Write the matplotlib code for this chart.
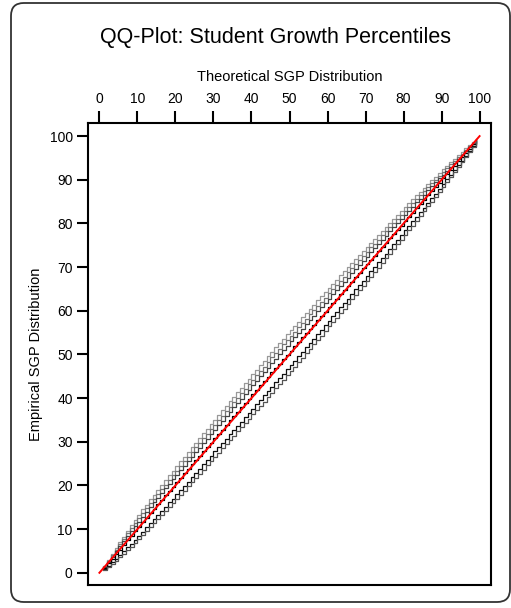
import matplotlib
matplotlib.use("Agg")
import matplotlib.pyplot as plt
import numpy as np
from matplotlib.patches import FancyBboxPatch

plt.rcParams['font.family'] = ['Liberation Sans', 'DejaVu Sans']

# theoretical percentiles 1..99
theoretical = np.array([
    1, 2, 3, 4, 5, 6, 7, 8, 9, 10, 11, 12, 13, 14, 15, 16, 17, 18, 19, 20,
    21, 22, 23, 24, 25, 26, 27, 28, 29, 30, 31, 32, 33, 34, 35, 36, 37, 38, 39, 40,
    41, 42, 43, 44, 45, 46, 47, 48, 49, 50, 51, 52, 53, 54, 55, 56, 57, 58, 59, 60,
    61, 62, 63, 64, 65, 66, 67, 68, 69, 70, 71, 72, 73, 74, 75, 76, 77, 78, 79, 80,
    81, 82, 83, 84, 85, 86, 87, 88, 89, 90, 91, 92, 93, 94, 95, 96, 97, 98, 99])

# empirical minus theoretical, one list per group
dev_a = [0.5, 0.9, 1.3, 1.7, 2.0, 2.3, 2.6, 2.9, 3.1, 3.3,
         3.5, 3.6, 3.8, 3.9, 4.0, 4.1, 4.2, 4.3, 4.4, 4.5,
         4.6, 4.6, 4.7, 4.8, 4.8, 4.9, 4.9, 5.0, 5.0, 5.1,
         5.1, 5.2, 5.2, 5.3, 5.3, 5.3, 5.4, 5.4, 5.4, 5.5,
         5.5, 5.5, 5.5, 5.6, 5.6, 5.6, 5.6, 5.6, 5.6, 5.6,
         5.5, 5.5, 5.5, 5.5, 5.4, 5.4, 5.4, 5.3, 5.3, 5.2,
         5.2, 5.1, 5.1, 5.0, 5.0, 4.9, 4.8, 4.8, 4.7, 4.6,
         4.5, 4.5, 4.4, 4.3, 4.2, 4.1, 4.0, 3.9, 3.8, 3.7,
         3.6, 3.5, 3.4, 3.3, 3.1, 3.0, 2.9, 2.7, 2.6, 2.4,
         2.2, 2.0, 1.8, 1.6, 1.4, 1.2, 0.9, 0.6, 0.3]
dev_b = [0.4, 0.7, 1.0, 1.3, 1.5, 1.8, 2.0, 2.2, 2.3, 2.5,
         2.6, 2.8, 2.9, 3.0, 3.1, 3.2, 3.2, 3.3, 3.4, 3.4,
         3.5, 3.5, 3.6, 3.7, 3.7, 3.7, 3.8, 3.8, 3.9, 3.9,
         3.9, 4.0, 4.0, 4.0, 4.1, 4.1, 4.1, 4.1, 4.2, 4.2,
         4.2, 4.2, 4.2, 4.3, 4.3, 4.3, 4.3, 4.3, 4.3, 4.3,
         4.2, 4.2, 4.2, 4.2, 4.2, 4.1, 4.1, 4.1, 4.0, 4.0,
         4.0, 3.9, 3.9, 3.8, 3.8, 3.7, 3.7, 3.6, 3.6, 3.5,
         3.5, 3.4, 3.3, 3.3, 3.2, 3.1, 3.1, 3.0, 2.9, 2.8,
         2.7, 2.6, 2.6, 2.5, 2.4, 2.3, 2.2, 2.0, 1.9, 1.8,
         1.7, 1.5, 1.4, 1.2, 1.0, 0.9, 0.7, 0.5, 0.2]
dev_c = [0.3, 0.5, 0.7, 0.9, 1.1, 1.2, 1.4, 1.5, 1.6, 1.7,
         1.8, 1.9, 2.0, 2.1, 2.1, 2.2, 2.3, 2.3, 2.4, 2.4,
         2.5, 2.5, 2.5, 2.6, 2.6, 2.6, 2.7, 2.7, 2.7, 2.8,
         2.8, 2.8, 2.8, 2.8, 2.9, 2.9, 2.9, 2.9, 2.9, 2.9,
         3.0, 3.0, 3.0, 3.0, 3.0, 3.0, 3.0, 3.0, 3.0, 3.0,
         3.0, 2.9, 2.9, 2.9, 2.9, 2.9, 2.9, 2.8, 2.8, 2.8,
         2.8, 2.7, 2.7, 2.7, 2.6, 2.6, 2.6, 2.5, 2.5, 2.4,
         2.4, 2.4, 2.3, 2.3, 2.2, 2.2, 2.1, 2.1, 2.0, 2.0,
         1.9, 1.8, 1.8, 1.7, 1.6, 1.6, 1.5, 1.4, 1.3, 1.2,
         1.1, 1.0, 0.9, 0.8, 0.7, 0.6, 0.5, 0.3, 0.2]
dev_d = [0.1, 0.2, 0.2, 0.3, 0.3, 0.4, 0.4, 0.5, 0.5, 0.5,
         0.6, 0.6, 0.6, 0.6, 0.7, 0.7, 0.7, 0.7, 0.7, 0.8,
         0.8, 0.8, 0.8, 0.8, 0.8, 0.8, 0.8, 0.8, 0.8, 0.8,
         0.8, 0.8, 0.9, 0.9, 0.9, 0.9, 0.9, 0.9, 0.9, 0.9,
         0.9, 0.9, 0.9, 0.9, 0.9, 0.9, 0.9, 0.9, 0.9, 0.9,
         0.9, 0.9, 0.9, 0.9, 0.9, 0.8, 0.8, 0.8, 0.8, 0.8,
         0.8, 0.8, 0.8, 0.8, 0.7, 0.7, 0.7, 0.7, 0.7, 0.7,
         0.7, 0.6, 0.6, 0.6, 0.6, 0.6, 0.6, 0.5, 0.5, 0.5,
         0.5, 0.5, 0.5, 0.4, 0.4, 0.4, 0.4, 0.4, 0.3, 0.3,
         0.3, 0.3, 0.2, 0.2, 0.2, 0.2, 0.1, 0.1, 0.1]
dev_e = [-0.2, -0.4, -0.6, -0.8, -0.9, -1.1, -1.2, -1.3, -1.4, -1.5,
         -1.6, -1.6, -1.7, -1.7, -1.8, -1.8, -1.9, -1.9, -2.0, -2.0,
         -2.0, -2.1, -2.1, -2.1, -2.1, -2.2, -2.2, -2.2, -2.2, -2.2,
         -2.3, -2.3, -2.3, -2.3, -2.3, -2.3, -2.4, -2.4, -2.4, -2.4,
         -2.4, -2.4, -2.4, -2.4, -2.4, -2.4, -2.4, -2.4, -2.4, -2.4,
         -2.4, -2.4, -2.4, -2.4, -2.4, -2.4, -2.3, -2.3, -2.3, -2.3,
         -2.3, -2.3, -2.2, -2.2, -2.2, -2.2, -2.1, -2.1, -2.1, -2.0,
         -2.0, -2.0, -1.9, -1.9, -1.9, -1.8, -1.8, -1.7, -1.7, -1.6,
         -1.6, -1.5, -1.5, -1.4, -1.4, -1.3, -1.2, -1.2, -1.1, -1.0,
         -0.9, -0.9, -0.8, -0.7, -0.6, -0.5, -0.4, -0.3, -0.1]
dev_f = [-0.3, -0.6, -0.9, -1.2, -1.4, -1.6, -1.8, -2.0, -2.1, -2.3,
         -2.4, -2.5, -2.6, -2.7, -2.8, -2.8, -2.9, -3.0, -3.0, -3.1,
         -3.1, -3.2, -3.2, -3.3, -3.3, -3.3, -3.4, -3.4, -3.4, -3.5,
         -3.5, -3.5, -3.6, -3.6, -3.6, -3.6, -3.7, -3.7, -3.7, -3.7,
         -3.7, -3.8, -3.8, -3.8, -3.8, -3.8, -3.8, -3.8, -3.8, -3.8,
         -3.8, -3.8, -3.8, -3.7, -3.7, -3.7, -3.7, -3.7, -3.6, -3.6,
         -3.6, -3.6, -3.5, -3.5, -3.5, -3.4, -3.4, -3.3, -3.3, -3.2,
         -3.2, -3.1, -3.1, -3.0, -3.0, -2.9, -2.9, -2.8, -2.7, -2.7,
         -2.6, -2.5, -2.4, -2.3, -2.2, -2.1, -2.0, -1.9, -1.8, -1.7,
         -1.6, -1.4, -1.3, -1.1, -1.0, -0.8, -0.6, -0.4, -0.2]

groups = [dev_a, dev_b, dev_c, dev_d, dev_e, dev_f]
colors = ['#999999', '#777777', '#444444', '#000000', '#111111', '#555555']

ref_line = [0, 100]
ticks = [0, 10, 20, 30, 40, 50, 60, 70, 80, 90, 100]

fig = plt.figure(figsize=(5.11, 6.08), dpi=100)

# rounded frame around everything
frame = FancyBboxPatch((11 / 511, 6 / 608), 499 / 511, 599 / 608,
                       boxstyle="round,pad=0,rounding_size=0.025",
                       transform=fig.transFigure, facecolor='none',
                       edgecolor='#333333', linewidth=1.3, mutation_aspect=511 / 608)
fig.patches.append(frame)

ax = fig.add_axes([88 / 511, 23 / 608, 403 / 511, 462 / 608])
for d, c in zip(groups, colors):
    ax.plot(theoretical, theoretical + np.array(d), drawstyle='steps-post',
            color=c, linewidth=0.9)
ax.plot(ref_line, ref_line, color='#ff0000', linewidth=1.4)

ax.set_xlim(-3, 103)
ax.set_ylim(-2.8, 103)
ax.xaxis.tick_top()
ax.xaxis.set_label_position('top')
ax.set_xticks(ticks)
ax.set_yticks(ticks)
ax.tick_params(axis='x', length=9, width=1.5, labelsize=10, pad=3)
ax.tick_params(axis='y', length=8, width=1.5, labelsize=10, pad=3)
for s in ax.spines.values():
    s.set_linewidth(1.5)
ax.set_xlabel('Theoretical SGP Distribution', fontsize=10.5, labelpad=8)
ax.set_ylabel('Empirical SGP Distribution', fontsize=10.5, labelpad=5)

fig.text(275 / 511, 1 - 38 / 608, 'QQ-Plot: Student Growth Percentiles',
         ha='center', va='center', fontsize=15.5)

fig.savefig('out.png', dpi=100)
